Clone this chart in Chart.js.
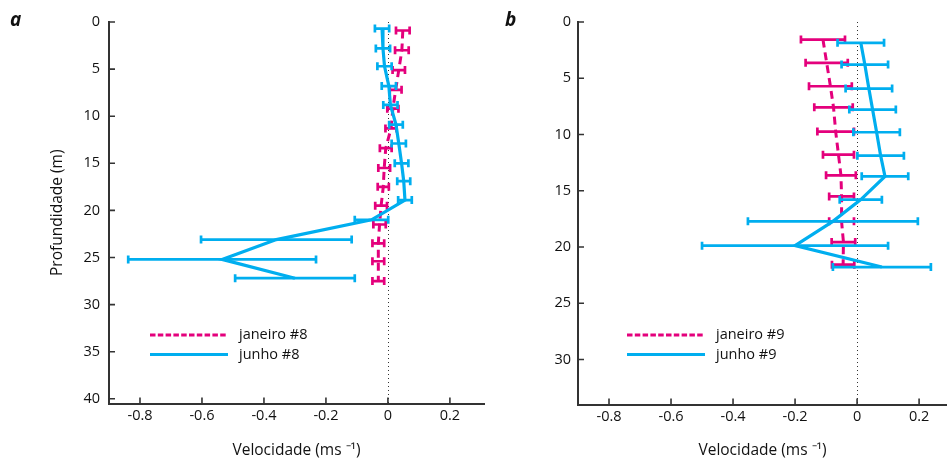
<!DOCTYPE html>
<html><head><meta charset="utf-8">
<script src="https://cdn.jsdelivr.net/npm/chart.js@4.4.0/dist/chart.umd.min.js"></script>
<style>
html,body{margin:0;padding:0;background:#fff;width:947px;height:460px;overflow:hidden;}
canvas{position:absolute;top:0;}
#ca{left:0;}
#cb{left:500px;}
.lab{position:absolute;top:6px;font:italic bold 19px "Open Sans",sans-serif;color:#111;}
</style></head>
<body>
<canvas id="ca" width="500" height="460"></canvas>
<canvas id="cb" width="447" height="460"></canvas>
<div class="lab" style="left:10px">a</div>
<div class="lab" style="left:505px">b</div>
<script>
// ---------- Panel a (#8) ----------
const depthJan8 = [0.9, 3.0, 5.1, 7.2, 9.2, 11.3, 13.4, 15.5, 17.5, 19.5, 21.5, 23.5, 25.4, 27.5];
const velJan8   = [0.048, 0.045, 0.035, 0.025, 0.016, 0.010, -0.007, -0.012, -0.015, -0.022, -0.027, -0.031, -0.031, -0.031];
const errJan8   = [0.022, 0.022, 0.020, 0.019, 0.018, 0.018, 0.019, 0.019, 0.018, 0.019, 0.020, 0.019, 0.019, 0.019];
const depthJun8 = [0.7, 2.8, 4.7, 6.8, 8.8, 10.9, 12.9, 15.0, 16.9, 18.9, 21.0, 23.1, 25.2, 27.2];
const velJun8   = [-0.019, -0.016, -0.011, 0.003, 0.008, 0.026, 0.035, 0.044, 0.051, 0.055, -0.053, -0.36, -0.535, -0.30];
const errJun8   = [0.023, 0.023, 0.023, 0.023, 0.023, 0.022, 0.023, 0.022, 0.021, 0.022, 0.054, 0.243, 0.303, 0.193];

// ---------- Panel b (#9) ----------
const depthJan9 = [1.56, 3.63, 5.71, 7.58, 9.74, 11.79, 13.63, 15.5, 17.72, 19.56, 21.57];
const velJan9   = [-0.11, -0.098, -0.086, -0.076, -0.069, -0.06, -0.052, -0.05, -0.05, -0.044, -0.045];
const errJan9   = [0.071, 0.068, 0.069, 0.062, 0.059, 0.05, 0.048, 0.04, 0.04, 0.038, 0.036];
const depthJun9 = [1.85, 3.78, 5.92, 7.78, 9.8, 11.88, 13.72, 15.79, 17.72, 19.88, 21.78];
const velJun9   = [0.012, 0.025, 0.038, 0.05, 0.063, 0.076, 0.09, 0.012, -0.078, -0.2, 0.08];
const errJun9   = [0.075, 0.075, 0.075, 0.075, 0.075, 0.075, 0.075, 0.068, 0.274, 0.30, 0.158];

// ---------- Ticks & labels ----------
const xTicks  = [-0.8, -0.6, -0.4, -0.2, 0, 0.2];
const yTicksA = [0, 5, 10, 15, 20, 25, 30, 35, 40];
const yTicksB = [0, 5, 10, 15, 20, 25, 30];
const xTitle = 'Velocidade (ms \u207B\u00B9)';
const yTitle = 'Profundidade (m)';

const FONT = '"Open Sans", sans-serif';
const MAGENTA = '#E4007C', CYAN = '#00AEEF', AXIS = '#333333', TXT = '#111111';

function pts(v, d) { return v.map((x, i) => ({x: x, y: d[i]})); }
function fmt(v) { return String(Math.round(v * 10) / 10); }

const errorBars = {
  id: 'errorBars',
  afterDatasetDraw(chart, args) {
    const ds = chart.data.datasets[args.index];
    if (!ds.err) return;
    const xs = chart.scales.x, ys = chart.scales.y, ctx = chart.ctx;
    ctx.save();
    ctx.strokeStyle = ds.borderColor;
    ctx.lineWidth = 2.7;
    ctx.setLineDash([]);
    ds.data.forEach((p, i) => {
      const e = ds.err[i];
      const y = ys.getPixelForValue(p.y);
      const x1 = xs.getPixelForValue(p.x - e), x2 = xs.getPixelForValue(p.x + e);
      ctx.beginPath();
      ctx.moveTo(x1, y); ctx.lineTo(x2, y);
      ctx.moveTo(x1, y - 4); ctx.lineTo(x1, y + 4);
      ctx.moveTo(x2, y - 4); ctx.lineTo(x2, y + 4);
      ctx.stroke();
    });
    ctx.restore();
  }
};

const axisDecor = {
  id: 'axisDecor',
  beforeDatasetsDraw(chart) {
    const {ctx, chartArea: a} = chart;
    const xs = chart.scales.x, ys = chart.scales.y;
    ctx.save();
    const x0 = Math.round(xs.getPixelForValue(0)) + 0.5;
    ctx.strokeStyle = '#333';
    ctx.lineWidth = 1;
    ctx.setLineDash([1, 3]);
    ctx.beginPath(); ctx.moveTo(x0, a.top); ctx.lineTo(x0, a.bottom); ctx.stroke();
    ctx.setLineDash([]);
    ctx.strokeStyle = AXIS;
    ctx.lineWidth = 1.6;
    ctx.beginPath();
    xs.ticks.forEach(t => {
      const px = xs.getPixelForValue(t.value);
      ctx.moveTo(px, a.bottom); ctx.lineTo(px, a.bottom - 6);
    });
    ys.ticks.forEach(t => {
      const py = ys.getPixelForValue(t.value);
      ctx.moveTo(a.left, py); ctx.lineTo(a.left + 6, py);
    });
    ctx.stroke();
    ctx.restore();
  }
};

const lineLegend = {
  id: 'lineLegend',
  afterDraw(chart, args, opts) {
    const {ctx, chartArea: a} = chart;
    ctx.save();
    [1, 0].forEach((di, k) => {
      const ds = chart.data.datasets[di];
      const y = opts.y + k * opts.gap;
      const x1 = a.left + opts.dx, x2 = x1 + 78;
      ctx.strokeStyle = ds.borderColor;
      ctx.lineWidth = 3.2;
      ctx.setLineDash(ds.borderDash ? [5.5, 2.3] : []);
      ctx.beginPath(); ctx.moveTo(x1, y); ctx.lineTo(x2, y); ctx.stroke();
      ctx.setLineDash([]);
      ctx.fillStyle = TXT;
      ctx.font = '14.5px ' + FONT;
      ctx.textBaseline = 'middle';
      ctx.textAlign = 'left';
      ctx.fillText(ds.label, x2 + 11, y);
    });
    ctx.restore();
  }
};

function makeChart(id, c) {
  return new Chart(document.getElementById(id), {
    type: 'scatter',
    data: {
      datasets: [
        {label: c.junLabel, data: pts(c.junV, c.junD), err: c.junE, borderColor: CYAN, backgroundColor: CYAN,
         borderWidth: 3.2, showLine: true, pointRadius: 0, fill: false, tension: 0},
        {label: c.janLabel, data: pts(c.janV, c.janD), err: c.janE, borderColor: MAGENTA, backgroundColor: MAGENTA,
         borderWidth: 3, borderDash: [8, 5], showLine: true, pointRadius: 0, fill: false, tension: 0}
      ]
    },
    options: {
      responsive: false, animation: false, events: [],
      layout: {padding: {left: 0, right: c.padR, top: 22, bottom: 0}},
      plugins: {legend: {display: false}, tooltip: {enabled: false}, lineLegend: {dx: c.legDx, y: 335, gap: 19.5}},
      scales: {
        x: {
          type: 'linear', min: -0.9, max: c.xMax,
          grid: {display: true, drawOnChartArea: false, drawTicks: false},
          border: {display: true, color: AXIS, width: 2},
          ticks: {padding: c.xPad, color: TXT, font: {family: FONT, size: 14.5}, callback: v => fmt(v)},
          afterBuildTicks: s => { s.ticks = xTicks.map(v => ({value: v})); },
          afterFit: s => { s.height = c.xH; },
          title: {display: true, text: xTitle, color: TXT, font: {family: FONT, size: 15.5}, padding: {top: 0, bottom: 0}}
        },
        y: {
          type: 'linear', reverse: true, min: 0, max: c.yMax,
          grid: {display: true, drawOnChartArea: false, drawTicks: false},
          border: {display: true, color: AXIS, width: 2},
          ticks: {padding: c.yPad, color: TXT, font: {family: FONT, size: 14.5}, callback: v => String(v)},
          afterBuildTicks: s => { s.ticks = c.yTicks.map(v => ({value: v})); },
          afterFit: s => { s.width = c.yW; },
          title: {display: c.showYTitle, text: yTitle, color: TXT, font: {family: FONT, size: 15.5}, padding: {top: 48, bottom: 0}}
        }
      }
    },
    plugins: [axisDecor, errorBars, lineLegend]
  });
}

makeChart('ca', {
  junLabel: 'junho #8', janLabel: 'janeiro #8',
  junV: velJun8, junD: depthJun8, junE: errJun8,
  janV: velJan8, janD: depthJan8, janE: errJan8,
  padR: 16, xMax: 0.31, xH: 56.5, xPad: 4, yMax: 40.5, yW: 109, yPad: 9,
  yTicks: yTicksA, showYTitle: true, legDx: 41
});
makeChart('cb', {
  junLabel: 'junho #9', janLabel: 'janeiro #9',
  junV: velJun9, junD: depthJun9, junE: errJun9,
  janV: velJan9, janD: depthJan9, janE: errJan9,
  padR: 0, xMax: 0.29, xH: 55.5, xPad: 4, yMax: 34, yW: 78, yPad: 7,
  yTicks: yTicksB, showYTitle: false, legDx: 49
});
</script>
</body></html>
